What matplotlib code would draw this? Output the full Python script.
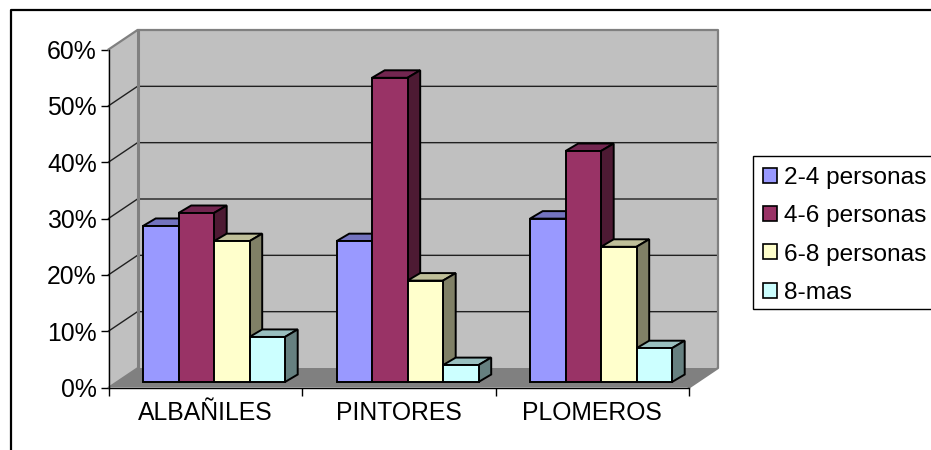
import matplotlib
matplotlib.use('Agg')
import numpy as np
import matplotlib.pyplot as plt
from matplotlib.lines import Line2D
from matplotlib.patches import Patch, Rectangle

# values
categories = ['ALBAÑILES', 'PINTORES', 'PLOMEROS']
series_names = ['2-4 personas', '4-6 personas', '6-8 personas', '8-mas']
albaniles = [27.7, 30, 25, 8]
pintores = [25, 54, 18, 3]
plomeros = [29, 41, 24, 6]
y_ticks = [0, 10, 20, 30, 40, 50, 60]

front_colors = ['#9999FF', '#993366', '#FFFFCC', '#CCFFFF']
top_colors = ['#7373BF', '#732650', '#BFBF99', '#99BFBF']
side_colors = ['#4D4D80', '#4D1A33', '#808066', '#668080']

plt.rcParams['font.family'] = ['Liberation Sans', 'DejaVu Sans']
FONT = 17.8
LEG_FONT = 17.6

W, H = 931, 450
fig = plt.figure(figsize=(W / 100, H / 100), dpi=100)
ax = fig.add_axes([108.5 / W, 1 - 387.5 / H, 580.5 / W, 338 / H])
ax.set_xlim(0, 3)
ax.set_ylim(0, 60)

px_x = 3 / 580.5   # data units per pixel
px_y = 60 / 338

# depth of the fake 3d box
dx = 29 * px_x
dy = 19.5 * px_y

# walls and floor
ax.fill([0, 0, dx, dx], [0, 60, 60 + dy, dy], color='#C0C0C0', clip_on=False, zorder=1, lw=0)
ax.fill([dx, dx, 3 + dx, 3 + dx], [dy, 60 + dy, 60 + dy, dy], color='#C0C0C0', clip_on=False, zorder=1, lw=0)
ax.fill([0, 3, 3 + dx, dx], [0, 0, dy, dy], color='#808080', clip_on=False, zorder=1, lw=0)

# gridlines, slanted on the side wall
for t in y_ticks[1:-1]:
    ax.plot([0, dx, 3 + dx], [t, t + dy, t + dy], color='#202020', lw=1, clip_on=False, zorder=2)

# wall border
ax.plot([0, dx, 3 + dx, 3 + dx, 3], [60, 60 + dy, 60 + dy, dy, 0], color='#808080', lw=1.6, clip_on=False, zorder=2)
ax.plot([dx, dx], [dy, 60 + dy], color='#808080', lw=2.2, clip_on=False, zorder=2)
ax.plot([0, dx], [0, dy], color='#808080', lw=1.2, clip_on=False, zorder=2)

# bars
bar_w = 35.5 * px_x
start = 34.5 * px_x
bar_dx = 12.7 * px_x
bar_dy = 7.5 * px_y
base = 5.5 * px_y

groups = [albaniles, pintores, plomeros]
for g in range(len(groups)):
    for s in range(len(groups[g])):
        v = groups[g][s]
        x0 = g + start + s * bar_w
        x1 = x0 + bar_w
        top = base + v
        z = 3 + s * 0.1 + g
        ax.fill([x0, x0 + bar_dx, x1 + bar_dx, x1], [top, top + bar_dy, top + bar_dy, top],
                facecolor=top_colors[s], edgecolor='black', lw=1.4, clip_on=False, zorder=z)
        ax.fill([x1, x1 + bar_dx, x1 + bar_dx, x1], [base, base + bar_dy, top + bar_dy, top],
                facecolor=side_colors[s], edgecolor='black', lw=1.4, clip_on=False, zorder=z)
        ax.bar(x0, v, width=bar_w, bottom=base, align='edge', facecolor=front_colors[s],
               edgecolor='black', lw=1.4, clip_on=False, zorder=z + 0.05)

# axes
for k in ['top', 'right']:
    ax.spines[k].set_visible(False)
ax.patch.set_visible(False)
for k in ['left', 'bottom']:
    ax.spines[k].set_linewidth(1)
    ax.spines[k].set_zorder(2.5)
ax.set_yticks(y_ticks)
ax.set_yticklabels([str(t) + '%' for t in y_ticks], fontsize=FONT)
ax.set_xticks([0, 1, 2, 3])
ax.set_xticklabels([])
ax.set_xticks([0.5, 1.5, 2.5], minor=True)
ax.set_xticklabels(categories, minor=True, fontsize=FONT)
ax.tick_params(axis='x', which='minor', length=0, pad=10)
ax.tick_params(axis='x', which='major', length=6, width=1)
ax.tick_params(axis='y', length=6, width=1, pad=2.5)

# outer frame, only left and top show in the crop
fig.add_artist(Line2D([11 / W, 11 / W, 1], [0, 1 - 10 / H, 1 - 10 / H], color='black', lw=1.6))

# legend, box drawn apart so the padding can match
fig.add_artist(Rectangle((753 / W, 1 - 309 / H), 200 / W, 153 / H, facecolor='white', edgecolor='black',
                         lw=1, transform=fig.transFigure, clip_on=True))
handles = [Patch(facecolor=front_colors[i], edgecolor='black', lw=1.2) for i in range(4)]
leg = fig.legend(handles, series_names, loc='upper left', bbox_to_anchor=(753.5 / W, 1 - 157 / H),
                 borderaxespad=0, fontsize=LEG_FONT, frameon=False,
                 handlelength=0.56, handleheight=0.56, handletextpad=0.3, labelspacing=0.67,
                 borderpad=0.4)

fig.savefig('out.png', dpi=100)
